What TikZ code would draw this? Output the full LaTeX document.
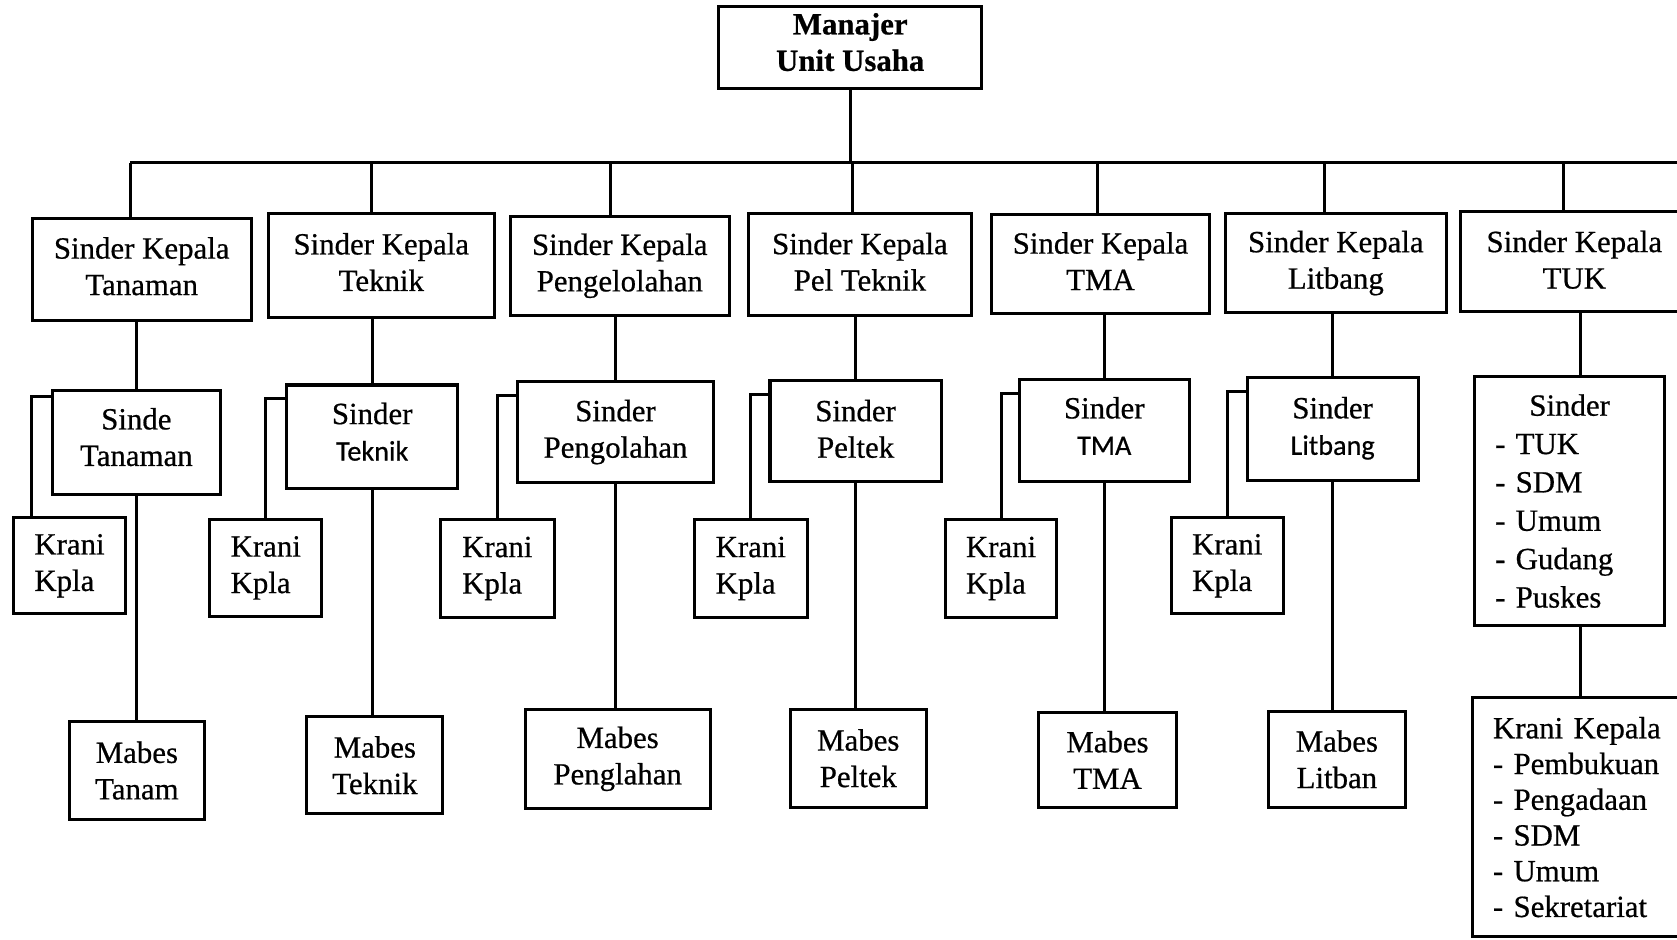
\documentclass[tikz,border=0pt]{standalone}
\usepackage{fontspec}
\setmainfont{Liberation Serif}[FakeBold=0.6]
\newfontfamily\calib{Carlito}[FakeBold=0.6]
\usetikzlibrary{positioning, calc}
\newcommand{\teks}{\fontsize{8.2pt}{9.7pt}\selectfont}
\newcommand{\kecil}{\calib\fontsize{7.5pt}{9.7pt}\selectfont}
\tikzset{
    unit/.style={draw, line width=0.8pt, inner sep=0pt, align=center, font=\teks},
    wh/.style 2 args={minimum width=#1cm, minimum height=#2cm},
    naik/.style={text depth=#1pt},
    krani/.style={unit, align=left},
    daftar/.style={draw, line width=0.8pt, inner xsep=0.19cm, inner ysep=0pt,
        align=left, font=\teks},
    link/.style={line width=0.8pt},
}

\begin{document}
\begin{tikzpicture}[x=0.01cm, y=-0.01cm]
        \useasboundingbox (0,0) rectangle (1568,878);

        % Pimpinan
        \node[unit, font=\teks\bfseries, naik=3, wh={2.46}{0.77}] (M) at (795,44.5) {Manajer\\Unit Usaha};

        % Sinder Kepala
        \node[unit, naik=1.8, wh={2.05}{0.96}] (A) at (132.5,252) {Sinder Kepala\\Tanaman};
        \node[unit, naik=2, wh={2.11}{0.97}] (B) at (356.5,248.5) {Sinder Kepala\\Teknik};
        \node[unit, wh={2.05}{0.93}] (C) at (579.5,248.5) {Sinder Kepala\\Pengelolahan};
        \node[unit, naik=1.6, wh={2.08}{0.95}] (D) at (804,247.5) {Sinder Kepala\\Pel Teknik};
        \node[unit, naik=1.6, wh={2.04}{0.92}] (E) at (1029,247) {Sinder Kepala\\TMA};
        \node[unit, wh={2.06}{0.92}] (F) at (1249,246) {Sinder Kepala\\Litbang};
        \node[unit, naik=1, wh={2.12}{0.93}] (G) at (1472,244.5) {Sinder Kepala\\TUK};

        % Sinder
        \node[unit, naik=2.8, wh={1.57}{0.97}] (A2) at (127.5,413.5) {Sinde\\Tanaman};
        \node[unit, naik=2.8, wh={1.60}{0.97}] (B2) at (348,408.5) {Sinder\\{\kecil Teknik}};
        \node[unit, wh={1.83}{0.94}] (C2) at (575.5,404) {Sinder\\Pengolahan};
        \node[unit, naik=1.2, wh={1.60}{0.94}] (D2) at (800,403) {Sinder\\Peltek};
        \node[unit, naik=2.4, wh={1.59}{0.95}] (E2) at (1032.5,402.5) {Sinder\\{\kecil TMA}};
        \node[unit, naik=1.6, wh={1.60}{0.96}] (F2) at (1246,401) {Sinder\\{\kecil Litbang}};
        \node[daftar, font=\fontsize{8.2pt}{10.2pt}\selectfont, text width=1.39cm,
            minimum height=2.33cm] (G2) at (1467.5,468.5)
            {\hspace*{0.32cm}Sinder\\- TUK\\- SDM\\- Umum\\- Gudang\\- Puskes};

        % Krani Kpla
        \node[krani, wh={1.04}{0.90}] (A3) at (65,529) {Krani\\Kpla};
        \node[krani, wh={1.05}{0.90}] (B3) at (248.5,531) {Krani\\Kpla};
        \node[krani, wh={1.06}{0.91}] (C3) at (465,531.5) {Krani\\Kpla};
        \node[krani, wh={1.06}{0.91}] (D3) at (702,531.5) {Krani\\Kpla};
        \node[krani, wh={1.04}{0.91}] (E3) at (936,531.5) {Krani\\Kpla};
        \node[krani, wh={1.05}{0.90}] (F3) at (1147.5,529) {Krani\\Kpla};

        % Mabes
        \node[unit, wh={1.26}{0.91}] (A4) at (128,720.5) {Mabes\\Tanam};
        \node[unit, wh={1.27}{0.91}] (B4) at (350.5,715.5) {Mabes\\Teknik};
        \node[unit, wh={1.73}{0.93}] (C4) at (577.5,709.5) {Mabes\\Penglahan};
        \node[unit, wh={1.27}{0.92}] (D4) at (802.5,709) {Mabes\\Peltek};
        \node[unit, wh={1.29}{0.89}] (E4) at (1035.5,710.5) {Mabes\\TMA};
        \node[unit, wh={1.28}{0.90}] (F4) at (1250,710) {Mabes\\Litban};
        \node[daftar, font=\fontsize{8.2pt}{9.5pt}\selectfont, text width=1.75cm,
            minimum height=2.24cm] (G3) at (1483.5,764)
            {Krani Kepala\\- Pembukuan\\- Pengadaan\\- SDM\\- Umum\\- Sekretariat};

        % Garis
        \foreach \n/\x in {A/122, B/347, C/571, D/797, E/1026, F/1238, G/1462} {
            \coordinate (d\n) at (\x,152);
            \draw[link] (d\n) -- (d\n |- \n.north);
        }
        \coordinate (busR) at (1590,152);
        \draw[link] (dA) -- (busR);
        \draw[link] (M) -- (M |- dA);

        \foreach \n in {A,B,C,D,E,F} {
            \draw[link] (\n2) -- (\n2 |- \n.south);
            \draw[link] (\n2) -- (\n2 |- \n4.north);
        }
        \draw[link] ([xshift=3pt]G2.north) -- ([xshift=3pt]G2.north |- G.south);
        \draw[link] ([xshift=3pt]G2.south) -- ([xshift=3pt]G2.south |- G3.north);

        \draw[link] ([yshift=-2pt]A2.north west) -| ([xshift=5pt]A3.north west);
        \foreach \n in {B,C,D,E,F} {
            \draw[link] ([yshift=-4pt]\n2.north west) -| (\n3);
        }
    \end{tikzpicture}
\end{document}
